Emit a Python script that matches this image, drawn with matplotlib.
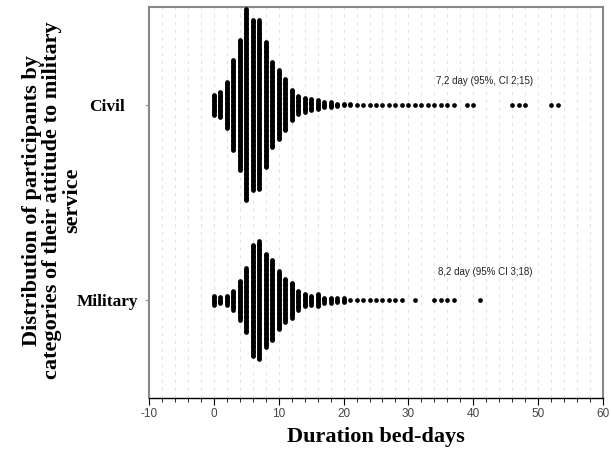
import numpy as np
import matplotlib
matplotlib.use("Agg")
import matplotlib.pyplot as plt
from matplotlib.ticker import MultipleLocator

# ---- data ----
categories = ["Military", "Civil"]

civil_days = list(range(0, 38)) + [39, 40, 46, 47, 48, 52, 53]
civil_counts = [17, 21, 38, 73, 105, 154, 137, 136, 101, 69, 56, 42, 25, 15, 12, 10, 8, 5, 5, 3,
                2, 2] + [1] * 16 + [1, 1, 1, 1, 1, 1, 1]

military_days = list(range(0, 30)) + [31, 34, 35, 36, 37, 41]
military_counts = [8, 6, 8, 16, 32, 52, 90, 95, 75, 65, 47, 35, 29, 16, 11, 8, 11, 5, 5, 4,
                   4] + [1] * 9 + [1, 1, 1, 1, 1, 1]

annotations = ["8,2 day (95% CI 3;18)", "7,2 day (95%, CI 2;15)"]
x_ticks = [-10, 0, 10, 20, 30, 40, 50, 60]

# ---- figure ----
fig = plt.figure(figsize=(6.11, 4.55), dpi=100)
ax = fig.add_axes([0.2439, 0.1253, 0.7430, 0.8593])

step = 0.0064
series = [(military_days, military_counts), (civil_days, civil_counts)]
for yi, (days, counts) in enumerate(series, start=1):
    xs, ys = [], []
    for d, n in zip(days, counts):
        offs = (np.arange(n) - (n - 1) / 2.0) * step
        xs.extend([d] * n)
        ys.extend(yi + offs)
    ax.scatter(xs, ys, s=11.5, c="black", marker="o", linewidths=0, zorder=3)

ax.set_xlim(-10, 60)
ax.set_ylim(0.5, 2.5)
ax.xaxis.set_minor_locator(MultipleLocator(2))
ax.set_xticks(x_ticks)
ax.set_xticklabels([str(t) for t in x_ticks], fontsize=8.5, color="#444444",
                   family="Liberation Sans")
ax.set_yticks([1, 2])
ax.set_yticklabels(categories, fontsize=12.5, fontweight="bold",
                   family="Liberation Serif", ha="center")
ax.tick_params(axis="y", length=3, color="#999999", pad=27)
ax.tick_params(axis="x", which="major", length=5, color="black", pad=2)
ax.tick_params(axis="x", which="minor", length=3, color="black")

ax.grid(which="both", axis="x", color="#e2e2e2", linestyle=(0, (3, 4)), linewidth=0.8,
        zorder=0)

for sp in ["top", "right", "left"]:
    ax.spines[sp].set_color("#888888")
    ax.spines[sp].set_linewidth(1.5)
ax.spines["bottom"].set_color("black")
ax.spines["bottom"].set_linewidth(1.0)

ann_offsets = [0.145, 0.12]
for yi, (txt, off) in enumerate(zip(annotations, ann_offsets), start=1):
    ax.text(41.8, yi + off, txt, fontsize=7, ha="center", va="center",
            family="Liberation Sans", color="#222222")

ax.set_xlabel("Duration bed-days", fontsize=16, fontweight="bold",
              family="Liberation Serif", labelpad=5)
fig.text(0.085, 0.56,
         "Distribution of participants by\ncategories of their attitude to military\nservice",
         rotation=90, ha="center", va="center", multialignment="center",
         fontsize=16, fontweight="bold", family="Liberation Serif", linespacing=1.0)

fig.savefig("out.png", dpi=100)
